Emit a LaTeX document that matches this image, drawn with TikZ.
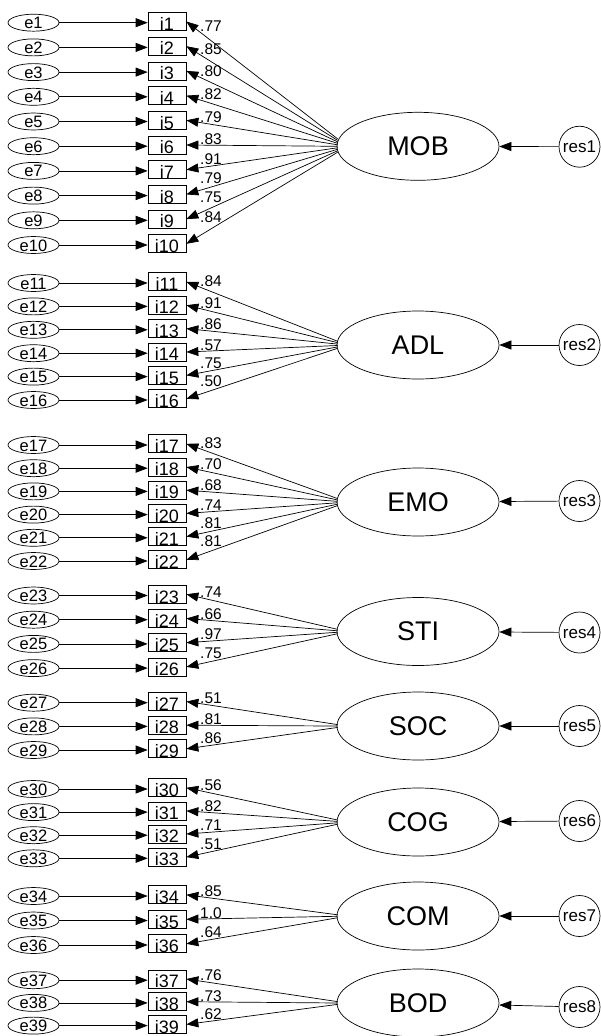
\documentclass[tikz,border=0pt]{standalone}
\usepackage{fontspec}
\setmainfont{Liberation Sans}
\usetikzlibrary{shapes.geometric,arrows.meta}
\tikzset{
 arr/.style={line width=0.7pt, -{Triangle[length=12pt,width=9pt]}},
 errn/.style={ellipse, draw, line width=0.7pt, minimum width=51pt, minimum height=15pt, inner sep=0pt, text height=12pt, text depth=0pt, font=\fontsize{16.5}{16.5}\selectfont},
 itemn/.style={rectangle, draw, line width=0.7pt, minimum width=38pt, minimum height=18pt, inner sep=0pt, text height=17.5pt, text depth=0pt, font=\fontsize{18}{18}\selectfont},
 loadn/.style={inner sep=0pt, anchor=base west, font=\fontsize{15.5}{15.5}\selectfont},
 latn/.style={ellipse, draw, line width=0.7pt, minimum width=162pt, minimum height=68pt, inner sep=0pt, font=\fontsize{27}{27}\selectfont},
 resn/.style={circle, draw, line width=0.7pt, minimum size=41pt, inner sep=0pt, font=\fontsize{17}{17}\selectfont},
}
\newcommand\semrow[5]{%
 \pgfmathsetmacro\sdy{0.06*(#2-#4)}%
 \pgfmathsetmacro\sty{#2-1.2}%
 \pgfmathsetmacro\sya{\sty+(#4+\sdy-\sty)*14/152}%
 \pgfmathsetmacro\syb{\sty+(#4+\sdy-\sty)*35/152}%
 \pgfmathsetmacro\syl{min(\sya,\syb)-0.5}%
 \node[errn] (e#1) at (33.5,#2) {e#1};
 \node[itemn] (i#1) at (167,\sty) {i#1};
 \draw[arr] (e#1.east) -- (e#1.east -| i#1.west);
 \draw[arr] ([shift={(1,\sdy)}]#3.west) -- (i#1.east);
 \node[loadn] (l#1) at (200,\syl) {#5};
}
\begin{document}
\begin{tikzpicture}[x=1pt,y=-1pt]
\useasboundingbox (0,0) rectangle (600,1036);
% latent variables and residuals
\node[latn] (MOB) at (418,146.3) {MOB};
\node[latn] (ADL) at (418,345) {ADL};
\node[latn] (EMO) at (418,502) {EMO};
\node[latn] (STI) at (418,631.5) {STI};
\node[latn] (SOC) at (418,726) {SOC};
\node[latn] (COG) at (418,822) {COG};
\node[latn] (COM) at (418,916) {COM};
\node[latn] (BOD) at (418,1003) {BOD};
\node[resn] (res1) at (579.5,146.7) {res1};
\node[resn] (res2) at (579.5,345) {res2};
\node[resn] (res3) at (579.5,501) {res3};
\node[resn] (res4) at (579.5,632.5) {res4};
\node[resn] (res5) at (579.5,726) {res5};
\node[resn] (res6) at (579.5,821) {res6};
\node[resn] (res7) at (579.5,916) {res7};
\node[resn] (res8) at (579.5,1007) {res8};
\foreach \r/\l in {res1/MOB,res2/ADL,res3/EMO,res4/STI,res5/SOC,res6/COG,res7/COM,res8/BOD}
  \draw[arr] (\r) -- (\l);
% MOB
\semrow{1}{22.7}{MOB}{146.3}{.77}
\semrow{2}{47.4}{MOB}{146.3}{.85}
\semrow{3}{72.1}{MOB}{146.3}{.80}
\semrow{4}{96.8}{MOB}{146.3}{.82}
\semrow{5}{121.5}{MOB}{146.3}{.79}
\semrow{6}{146.2}{MOB}{146.3}{.83}
\semrow{7}{170.9}{MOB}{146.3}{.91}
\semrow{8}{195.6}{MOB}{146.3}{.79}
\semrow{9}{220.3}{MOB}{146.3}{.75}
\semrow{10}{245}{MOB}{146.3}{.84}
% ADL
\semrow{11}{283}{ADL}{345}{.84}
\semrow{12}{306.4}{ADL}{345}{.91}
\semrow{13}{329.8}{ADL}{345}{.86}
\semrow{14}{353.2}{ADL}{345}{.57}
\semrow{15}{376.6}{ADL}{345}{.75}
\semrow{16}{400}{ADL}{345}{.50}
% EMO
\semrow{17}{445}{EMO}{502}{.83}
\semrow{18}{468.2}{EMO}{502}{.70}
\semrow{19}{491.4}{EMO}{502}{.68}
\semrow{20}{514.6}{EMO}{502}{.74}
\semrow{21}{537.8}{EMO}{502}{.81}
\semrow{22}{561}{EMO}{502}{.81}
% STI
\semrow{23}{595.5}{STI}{631.5}{.74}
\semrow{24}{619.7}{STI}{631.5}{.66}
\semrow{25}{643.9}{STI}{631.5}{.97}
\semrow{26}{668.1}{STI}{631.5}{.75}
% SOC
\semrow{27}{702.7}{SOC}{726}{.51}
\semrow{28}{726.4}{SOC}{726}{.81}
\semrow{29}{750}{SOC}{726}{.86}
% COG
\semrow{30}{789}{COG}{822}{.56}
\semrow{31}{812.1}{COG}{822}{.82}
\semrow{32}{835.2}{COG}{822}{.71}
\semrow{33}{858.3}{COG}{822}{.51}
% COM
\semrow{34}{896}{COM}{916}{.85}
\semrow{35}{920.5}{COM}{916}{1.0}
\semrow{36}{945}{COM}{916}{.64}
% BOD
\semrow{37}{980.2}{BOD}{1003}{.76}
\semrow{38}{1002.9}{BOD}{1003}{.73}
\semrow{39}{1025.6}{BOD}{1003}{.62}
\end{tikzpicture}
\end{document}
